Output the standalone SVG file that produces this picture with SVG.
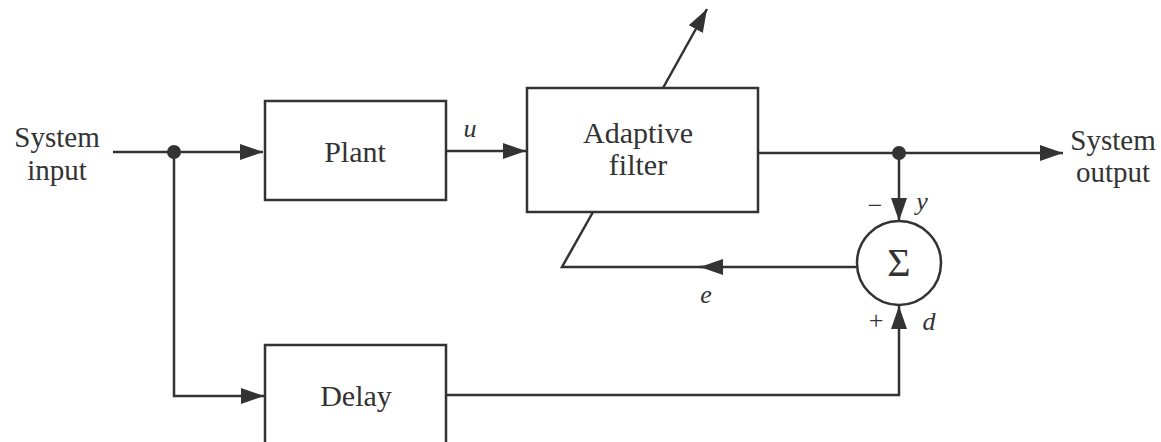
<svg xmlns="http://www.w3.org/2000/svg" width="1161" height="442" viewBox="0 0 1161 442">
<defs>
<marker id="ah" markerWidth="26" markerHeight="18" refX="23" refY="8" orient="auto" markerUnits="userSpaceOnUse">
<path d="M0,0 L23,8 L0,16 Z" fill="#333"/>
</marker>
<style>
.ln{fill:none;stroke:#333;stroke-width:2.5}
.box{fill:#fff;stroke:#333;stroke-width:2.5}
.t{font-family:"Liberation Serif","Times New Roman",serif;fill:#333;font-size:29px}
.b{font-size:30px}
.i{font-style:italic;font-size:26px}
.s{font-size:40px}
.pm{font-size:26px}
.dot{fill:#333}
</style>
</defs>
<rect width="1161" height="442" fill="#fff"/>
<g id="connectors">
<path class="ln" d="M113,152 H263" marker-end="url(#ah)"/>
<path class="ln" d="M174,152 V396 H264" marker-end="url(#ah)"/>
<path class="ln" d="M446,151 H526" marker-end="url(#ah)"/>
<path class="ln" d="M663,88 L707,9" marker-end="url(#ah)"/>
<path class="ln" d="M758,153 H1063" marker-end="url(#ah)"/>
<path class="ln" d="M899,153 V221" marker-end="url(#ah)"/>
<path class="ln" d="M446,395 H899 V306" marker-end="url(#ah)"/>
<path class="ln" d="M857,267 H700" marker-end="url(#ah)"/>
<path class="ln" d="M705,267 H562 L593,212"/>
<circle class="dot" cx="174" cy="152" r="7"/>
<circle class="dot" cx="899" cy="153" r="7"/>
</g>
<g id="input">
<text class="t" x="57" y="147" text-anchor="middle">System</text>
<text class="t" x="57" y="180" text-anchor="middle">input</text>
</g>
<g id="plant">
<rect class="box" x="265" y="101" width="181" height="99"/>
<text class="t b" x="355" y="162" text-anchor="middle">Plant</text>
</g>
<g id="adaptive-filter">
<rect class="box" x="527" y="88" width="231" height="124"/>
<text class="t b" x="638" y="143" text-anchor="middle">Adaptive</text>
<text class="t b" x="638" y="175" text-anchor="middle">filter</text>
</g>
<g id="delay">
<rect class="box" x="265" y="345" width="181" height="110"/>
<text class="t b" x="356" y="406" text-anchor="middle">Delay</text>
</g>
<g id="sum">
<circle class="box" cx="899" cy="263" r="42"/>
<text class="t s" x="899" y="276" text-anchor="middle">Σ</text>
</g>
<g id="output">
<text class="t" x="1113" y="150" text-anchor="middle">System</text>
<text class="t" x="1113" y="182" text-anchor="middle">output</text>
</g>
<g id="labels">
<text class="t i" x="470" y="137" text-anchor="middle">u</text>
<text class="t i" x="706" y="303" text-anchor="middle">e</text>
<text class="t i" x="922" y="210" text-anchor="middle">y</text>
<text class="t i" x="929" y="330" text-anchor="middle">d</text>
<text class="t pm" x="875" y="214" text-anchor="middle">−</text>
<text class="t pm" x="876" y="329" text-anchor="middle">+</text>
</g>
</svg>
